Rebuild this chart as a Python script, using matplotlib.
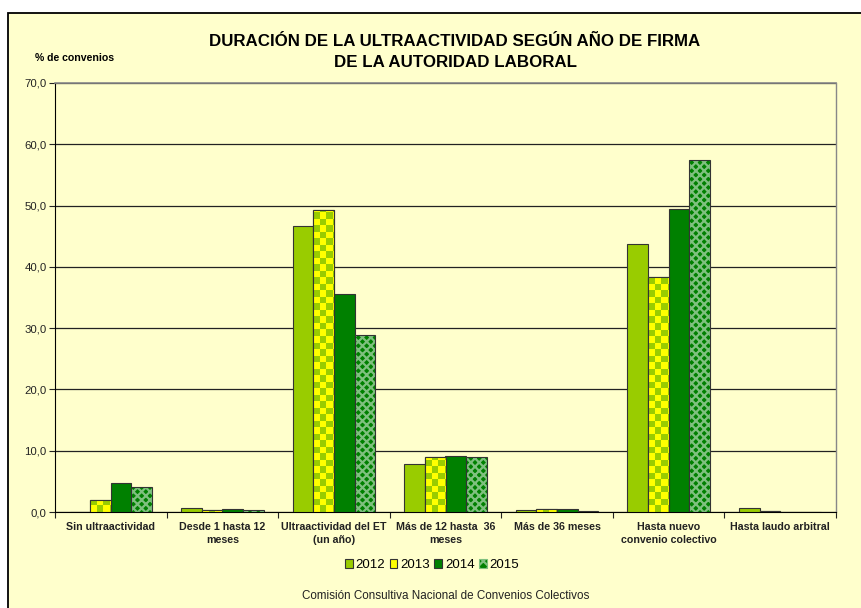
import math
import numpy as np
import matplotlib
matplotlib.use("Agg")
import matplotlib.pyplot as plt
from matplotlib.colors import ListedColormap
from matplotlib.patches import Rectangle, Patch

plt.rcParams['font.family'] = ['Liberation Sans', 'DejaVu Sans']
plt.rcParams['hatch.linewidth'] = 1.6

categorias = ["Sin ultraactividad", "Desde 1 hasta 12\nmeses", "Ultraactividad del ET\n(un año)",
              "Más de 12 hasta  36\nmeses", "Más de 36 meses", "Hasta nuevo\nconvenio colectivo",
              "Hasta laudo arbitral"]
anios = ["2012", "2013", "2014", "2015"]
v2012 = [0.05, 0.6, 46.7, 7.8, 0.3, 43.8, 0.65]
v2013 = [1.95, 0.3, 49.3, 8.9, 0.45, 38.4, 0.2]
v2014 = [4.7, 0.45, 35.6, 9.1, 0.5, 49.4, 0.0]
v2015 = [4.0, 0.3, 28.9, 8.9, 0.1, 57.4, 0.0]
yticks = [0, 10, 20, 30, 40, 50, 60, 70]

fondo = '#FFFFCC'
c_lima = '#99CC00'
c_amar = '#FFFF00'
c_verde = '#008000'
borde = '#333333'

fig = plt.figure(figsize=(8.62, 6.08), dpi=100, facecolor='white')
fig.patches.append(Rectangle((8 / 862, -0.05), 1.0, 1 - 12.5 / 608 + 0.05, transform=fig.transFigure,
                             facecolor=fondo, edgecolor='black', linewidth=1.3, zorder=-10))

ax = fig.add_axes([55 / 862, 1 - 512 / 608, (836 - 55) / 862, (512 - 83) / 608])
ax.set_facecolor(fondo)

x = np.arange(len(categorias))
w = 0.185
offs = np.array([-1.5, -0.5, 0.5, 1.5]) * w
ax.set_xlim(-0.5, len(categorias) - 0.5)
ax.set_ylim(0, 70)

b12 = ax.bar(x + offs[0], v2012, w, color=c_lima, edgecolor=borde, linewidth=0.8, zorder=3)
b13 = ax.bar(x + offs[1], v2013, w, color=c_amar, edgecolor=borde, linewidth=0.8, zorder=3)
b14 = ax.bar(x + offs[2], v2014, w, color=c_verde, edgecolor=borde, linewidth=0.8, zorder=3)
b15 = ax.bar(x + offs[3], v2015, w, color=c_verde, edgecolor='none', linewidth=0, zorder=3)
ax.bar(x + offs[3], v2015, w, color='none', edgecolor='#7FC07F', hatch='xxxx', linewidth=0, zorder=4)
ax.bar(x + offs[3], v2015, w, color='none', edgecolor=borde, linewidth=0.8, zorder=5)

# damero para 2013
pxx = ax.bbox.width / 7.0
pxy = ax.bbox.height / 70.0
celda = 6.5
cmap = ListedColormap([c_amar, c_lima])
for p in b13.patches:
    x0, h, bw = p.get_x(), p.get_height(), p.get_width()
    if h <= 0:
        continue
    cols = math.ceil(bw * pxx / celda)
    rows = max(1, math.ceil(h * pxy / celda))
    arr = (np.add.outer(np.arange(rows), np.arange(cols)) % 2).astype(float)
    im = ax.imshow(arr, cmap=cmap, vmin=0, vmax=1, interpolation='nearest', aspect='auto',
                   extent=(x0, x0 + cols * celda / pxx, 0, rows * celda / pxy), origin='lower', zorder=3.5)
    im.set_clip_path(p)
    ax.add_patch(Rectangle((x0, 0), bw, h, facecolor='none', edgecolor=borde, linewidth=0.8, zorder=5))

ax.set_xlim(-0.5, len(categorias) - 0.5)
ax.set_ylim(0, 70)
ax.set_aspect('auto')

ax.set_yticks(yticks)
ax.set_yticklabels([f"{v:.1f}".replace('.', ',') for v in yticks], fontsize=8.2, color='#222222')
ax.yaxis.grid(True, color='#222222', linewidth=0.9)
ax.set_axisbelow(True)

ax.set_xticks(np.arange(-0.5, len(categorias), 1.0))
ax.set_xticklabels([])
ax.set_xticks(x, minor=True)
ax.set_xticklabels(categorias, minor=True, fontsize=7.7, fontweight='bold', color='#222222', linespacing=1.45)
ax.tick_params(axis='x', which='major', length=4, direction='out', color='#222222')
ax.tick_params(axis='x', which='minor', length=0, pad=7)
ax.tick_params(axis='y', length=4, direction='out', color='#222222', pad=2)

ax.spines['left'].set_color('black')
ax.spines['bottom'].set_color('black')
ax.spines['top'].set_color('#888888')
ax.spines['right'].set_color('#888888')
ax.spines['top'].set_linewidth(1.2)
ax.spines['right'].set_linewidth(1.0)

fig.text(455 / 862, 1 - 52 / 608, "DURACIÓN DE LA ULTRAACTIVIDAD SEGÚN AÑO DE FIRMA\nDE LA AUTORIDAD LABORAL",
         ha='center', va='center', fontsize=12.2, fontweight='bold', linespacing=1.45)
fig.text(35 / 862, 1 - 58 / 608, "% de convenios", ha='left', va='center', fontsize=7.6, fontweight='bold')

handles = [Patch(facecolor=c_lima, edgecolor=borde, linewidth=0.8),
           Patch(facecolor=c_amar, edgecolor=borde, linewidth=0.8),
           Patch(facecolor=c_verde, edgecolor=borde, linewidth=0.8),
           Patch(facecolor=c_verde, edgecolor='#7FC07F', hatch='xxx', linewidth=0.8)]
fig.legend(handles, anios, loc='center', bbox_to_anchor=(432 / 862, 1 - 565 / 608), ncol=4, frameon=False,
           fontsize=9.5, handlelength=0.6, handleheight=0.7, handletextpad=0.2, columnspacing=0.35)

fig.text(446 / 862, 1 - 596 / 608, "Comisión Consultiva Nacional de Convenios Colectivos",
         ha='center', va='center', fontsize=8.35, color='#222222')

fig.savefig("out.png", dpi=100, facecolor='white')
